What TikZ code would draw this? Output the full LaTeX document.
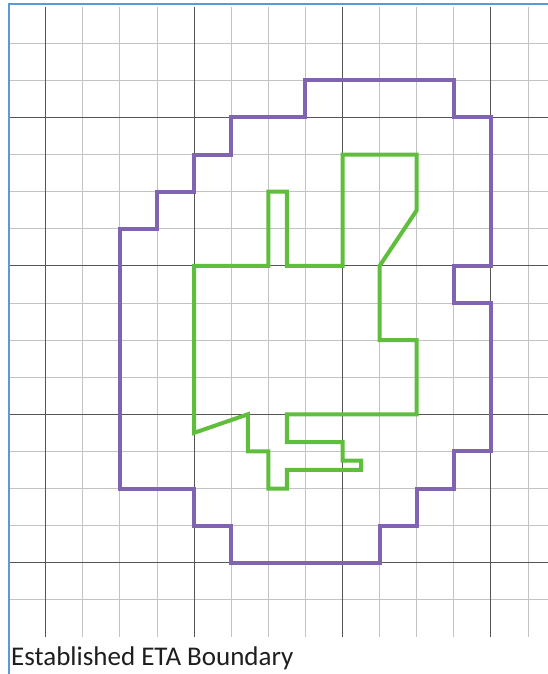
\documentclass[tikz,border=0pt]{standalone}
\usepackage{fontspec}
\setmainfont{Carlito}
\definecolor{framecol}{RGB}{91,155,213}
\definecolor{gridlight}{RGB}{195,195,195}
\definecolor{griddark}{RGB}{85,85,85}
\definecolor{etapurple}{RGB}{128,100,178}
\definecolor{etagreen}{RGB}{95,190,60}
\definecolor{captioncol}{RGB}{30,30,30}
\tikzset{
  minorline/.style={draw=gridlight, line width=1pt},
  majorline/.style={draw=griddark, line width=0.9pt},
  outerzone/.style={draw=etapurple, line width=4pt},
  innerzone/.style={draw=etagreen, line width=4pt},
  framestyle/.style={draw=framecol, line width=1.6pt},
}
\begin{document}
\begin{tikzpicture}[x=1pt,y=-1pt]
\useasboundingbox (0,0) rectangle (548,674);
\fill[white] (0,0) rectangle (548,674);
\begin{scope}[shift={(45.7pt,-43.3pt)}, x=37.1pt, y=-37.1pt]
  % minor grid
  \foreach \i in {0,...,13} \draw[minorline] (\i,-0.98) -- (\i,16);
  \foreach \j in {0,...,15} \draw[minorline] (-0.97,\j) -- (13.6,\j);
  % major grid
  \foreach \i in {0,4,8,12} \draw[majorline] (\i,-0.98) -- (\i,16);
  \foreach \j in {2,6,10,14} \draw[majorline] (-0.97,\j) -- (13.6,\j);
  % purple boundary
  \draw[outerzone] (7,1) -- (11,1) -- (11,2) -- (12,2) -- (12,6) -- (11,6) -- (11,7) -- (12,7)
    -- (12,11) -- (11,11) -- (11,12) -- (10,12) -- (10,13) -- (9,13) -- (9,14) -- (5,14)
    -- (5,13) -- (4,13) -- (4,12) -- (2,12) -- (2,5) -- (3,5) -- (3,4) -- (4,4) -- (4,3)
    -- (5,3) -- (5,2) -- (7,2) -- cycle;
  % green boundary
  \draw[innerzone] (4,6) -- (6,6) -- (6,4) -- (6.5,4) -- (6.5,6) -- (8,6) -- (8,3) -- (10,3)
    -- (10,4.5) -- (9,6) -- (9,8) -- (10,8) -- (10,10) -- (6.5,10) -- (6.5,10.75) -- (8,10.75)
    -- (8,11.25) -- (8.5,11.25) -- (8.5,11.5) -- (6.5,11.5) -- (6.5,12) -- (6,12) -- (6,11)
    -- (5.45,11) -- (5.45,10) -- (4,10.5) -- cycle;
\end{scope}
% frame
\coordinate (ftop) at (548,4);
\coordinate (fcorner) at (9,4);
\coordinate (fbottom) at (9,674);
\draw[framestyle] (ftop) -- (fcorner) -- (fbottom);
\node[anchor=base west, inner sep=0pt, text=captioncol, font=\fontsize{27}{31}\selectfont] (caption) at (11,665) {Established ETA Boundary};
\end{tikzpicture}
\end{document}
